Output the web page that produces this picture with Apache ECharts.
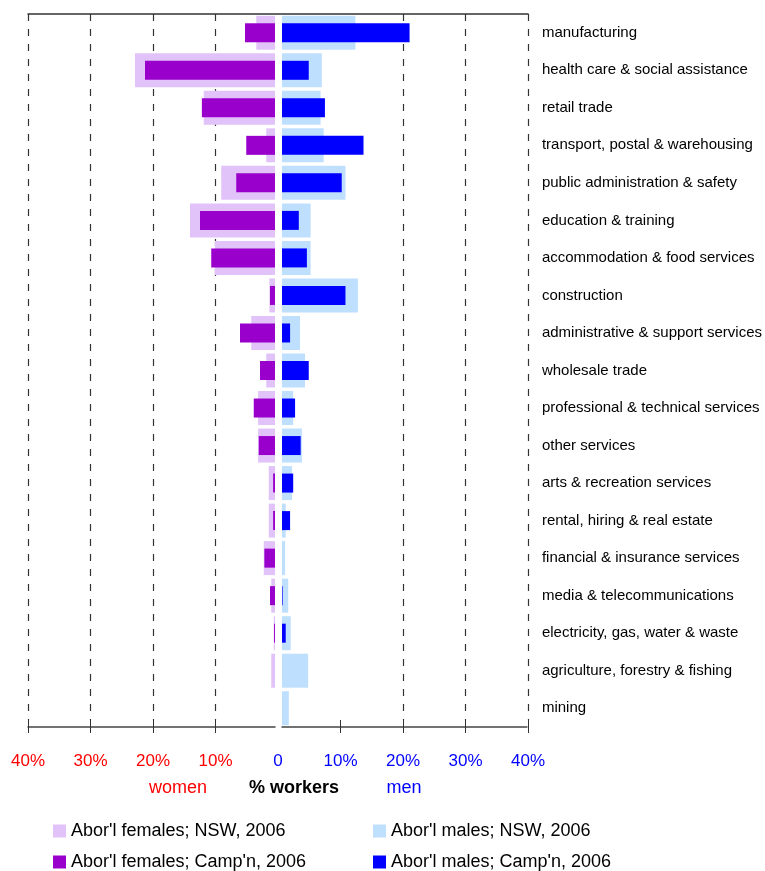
<!DOCTYPE html>
<html>
<head>
<meta charset="utf-8">
<script src="https://cdn.jsdelivr.net/npm/echarts@6/dist/echarts.min.js"></script>
<style>html,body{margin:0;padding:0;background:#fff;}#main{width:765px;height:871px;}</style>
</head>
<body>
<div id="main"></div>
<script>
const categories = [
  'manufacturing',
  'health care & social assistance',
  'retail trade',
  'transport, postal & warehousing',
  'public administration & safety',
  'education & training',
  'accommodation & food services',
  'construction',
  'administrative & support services',
  'wholesale trade',
  'professional & technical services',
  'other services',
  'arts & recreation services',
  'rental, hiring & real estate',
  'financial & insurance services',
  'media & telecommunications',
  'electricity, gas, water & waste',
  'agriculture, forestry & fishing',
  'mining'
];
const femalesNSW   = [3.0, 22.4, 11.4, 1.4, 8.6, 13.6, 9.6, 0.9, 3.8, 1.4, 2.7, 2.7, 1.0, 1.0, 1.8, 0.6, 0.2, 0.6, 0];
const femalesCamp  = [4.8, 20.8, 11.7, 4.6, 6.2, 12.0, 10.2, 0.8, 5.6, 2.4, 3.4, 2.6, 0.3, 0.3, 1.7, 0.8, 0.15, 0, 0];
const malesNSW     = [11.8, 6.4, 6.2, 6.7, 10.2, 4.6, 4.6, 12.2, 2.9, 3.7, 1.8, 3.2, 1.6, 0.6, 0.5, 1.0, 1.4, 4.2, 1.1];
const malesCamp    = [20.5, 4.3, 6.9, 13.1, 9.6, 2.7, 4.0, 10.2, 1.3, 4.3, 2.1, 3.0, 1.8, 1.3, 0, 0.1, 0.6, 0, 0];
const tickValues   = [-40, -30, -20, -10, 0, 10, 20, 30, 40];
const seriesNames  = ["Abor'l females; NSW, 2006", "Abor'l females; Camp'n, 2006", "Abor'l males; NSW, 2006", "Abor'l males; Camp'n, 2006"];

const FONT = 'Liberation Sans, Arial, sans-serif';
const PX_PER_PCT = 6.25;
const chart = echarts.init(document.getElementById('main'));

function catAxis(gridIndex, extra) {
  return Object.assign({
    type: 'category', gridIndex: gridIndex, data: categories, inverse: true,
    axisLine: {show: false}, axisTick: {show: false}, axisLabel: {show: false}, splitLine: {show: false}
  }, extra || {});
}

const legendCommon = {
  orient: 'vertical', top: 822, height: 120,
  itemWidth: 13, itemHeight: 13, itemGap: 13, icon: 'rect', padding: 0,
  textStyle: {fontSize: 18, color: '#000', fontFamily: FONT}, selectedMode: false
};

const option = {
  backgroundColor: '#fff',
  animation: false,
  grid: [
    {left: 28, width: 500, top: 14, height: 706},
    {left: 28, width: 247, top: 14, height: 713},
    {left: 282, width: 246, top: 14, height: 713}
  ],
  xAxis: [
    {
      type: 'value', gridIndex: 0, min: -40, max: 40, interval: 10, position: 'bottom',
      axisLine: {show: false},
      axisTick: {show: true, length: 13, customValues: tickValues.filter(v => v !== 0), lineStyle: {color: '#333', width: 1}},
      axisLabel: {
        show: true, margin: 33, fontSize: 17, fontFamily: FONT,
        color: function (v) { return v < 0 ? '#ff0000' : '#0000ff'; },
        formatter: function (v) { return v === 0 ? '0' : Math.abs(v) + '%'; }
      },
      splitLine: {show: true, lineStyle: {type: [7, 8], width: 1.2, color: tickValues.map(v => v === 0 ? 'rgba(0,0,0,0)' : '#333')}}
    },
    {
      type: 'value', gridIndex: 0, min: -40, max: 40, position: 'top',
      axisLine: {show: true, lineStyle: {color: '#333', width: 1.5}},
      axisTick: {show: false}, axisLabel: {show: false}, splitLine: {show: false}
    },
    {
      type: 'value', gridIndex: 1, min: 0, max: 247 / PX_PER_PCT, inverse: true, position: 'bottom',
      axisLine: {show: true, onZero: false, lineStyle: {color: '#444', width: 1.5}},
      axisTick: {show: false}, axisLabel: {show: false}, splitLine: {show: false}
    },
    {
      type: 'value', gridIndex: 2, min: 0, max: 246 / PX_PER_PCT, position: 'bottom',
      axisLine: {show: true, onZero: false, lineStyle: {color: '#444', width: 1.5}},
      axisTick: {show: false}, axisLabel: {show: false}, splitLine: {show: false}
    }
  ],
  yAxis: [
    catAxis(0),
    catAxis(1),
    catAxis(1),
    catAxis(2, {position: 'right', axisLabel: {show: true, margin: 15, fontSize: 15, color: '#000', fontFamily: FONT, align: 'left', padding: [4, 0, 0, 0]}}),
    catAxis(2)
  ],
  legend: [
    Object.assign({}, legendCommon, {data: [seriesNames[0], seriesNames[1]], left: 53}),
    Object.assign({}, legendCommon, {data: [seriesNames[2], seriesNames[3]], left: 373})
  ],
  graphic: [
    {type: 'text', x: 178, y: 788, style: {text: 'women', fill: '#ff0000', font: '18px ' + FONT, textAlign: 'center', textVerticalAlign: 'middle'}},
    {type: 'text', x: 294, y: 788, style: {text: '% workers', fill: '#000', font: 'bold 18px ' + FONT, textAlign: 'center', textVerticalAlign: 'middle'}},
    {type: 'text', x: 404, y: 788, style: {text: 'men', fill: '#0000ff', font: '18px ' + FONT, textAlign: 'center', textVerticalAlign: 'middle'}}
  ],
  series: [
    {name: seriesNames[0], type: 'bar', xAxisIndex: 2, yAxisIndex: 1, data: femalesNSW, barWidth: 34, itemStyle: {color: '#e1c3fa'}, z: 2},
    {name: seriesNames[1], type: 'bar', xAxisIndex: 2, yAxisIndex: 2, data: femalesCamp, barWidth: 19, itemStyle: {color: '#9900cc'}, z: 3},
    {name: seriesNames[2], type: 'bar', xAxisIndex: 3, yAxisIndex: 3, data: malesNSW, barWidth: 34, itemStyle: {color: '#bfdfff'}, z: 2},
    {name: seriesNames[3], type: 'bar', xAxisIndex: 3, yAxisIndex: 4, data: malesCamp, barWidth: 19, itemStyle: {color: '#0000ff'}, z: 3}
  ]
};
chart.setOption(option);
</script>
</body>
</html>
